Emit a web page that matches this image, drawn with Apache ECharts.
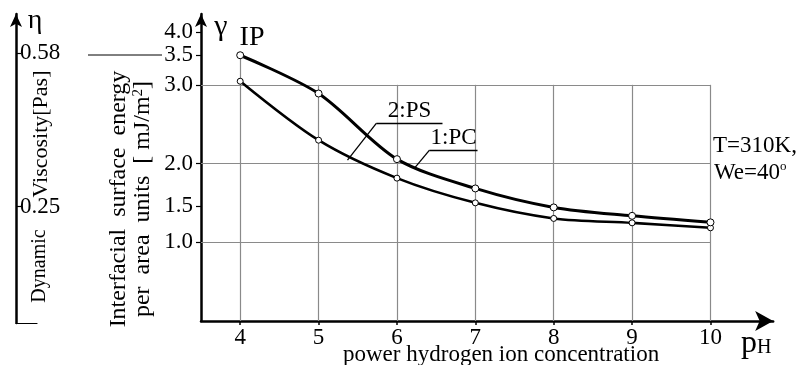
<!DOCTYPE html>
<html><head><meta charset="utf-8">
<script src="https://cdn.jsdelivr.net/npm/echarts@6/dist/echarts.min.js"></script>
<style>html,body{margin:0;padding:0;background:#fff}#c{width:799px;height:365px}</style>
</head><body><div id="c"></div>
<script>
// ---- data ----
const pH = [4, 5, 6, 7, 8, 9, 10];
const gammaPC = [3.376, 2.890, 2.056, 1.684, 1.443, 1.336, 1.253];   // 1:PC
const gammaPS = [3.046, 2.297, 1.815, 1.501, 1.303, 1.247, 1.184];   // 2:PS
const xTickValues = [4, 5, 6, 7, 8, 9, 10];
const yTickValues = [1.0, 1.46, 2.0, 3.0, 3.376, 3.667];
const yTickLabels = ['1.0', '1.5', '2.0', '3.0', '3.5', '4.0'];
const etaTickValues = [0.25, 0.58];
const etaTickLabels = ['0.25', '0.58'];
const gridLevels = [1, 2, 3];

const FONT = '"Liberation Serif", "DejaVu Serif", serif';
const X_MIN = 3.5, X_MAX = 10.8, Y_MAX = 3.9;

function lookup(vals, labels, v) {
  const i = vals.findIndex(t => Math.abs(t - v) < 1e-6);
  return i >= 0 ? labels[i] : '';
}

const chart = echarts.init(document.getElementById('c'), null, {renderer: 'canvas'});

const vGrid = pH.map((x, i) => [{coord: [x, 0]}, {coord: [x, i === 0 ? gammaPC[0] : 3]}]);
const hGrid = gridLevels.map(v => [{coord: [X_MIN, v]}, {coord: [10, v]}]);

const annLabel = (t) => ({show: true, formatter: t, position: 'insideMiddleTop', distance: 1,
  color: '#000', fontFamily: FONT, fontSize: 23});

const T = (x, y, text, size, extra) => Object.assign({type: 'text', x: x, y: y,
  style: Object.assign({text: text, font: size + 'px ' + FONT, fill: '#000',
    textAlign: 'center', textVerticalAlign: 'middle', align: 'center', verticalAlign: 'middle'}, extra || {})});

const option = {
  animation: false,
  backgroundColor: '#fff',
  grid: [
    {left: 201, width: (X_MAX - X_MIN) * 78.38, top: 14, bottom: 44},
    {left: 16, width: 21, top: 14, bottom: 42}
  ],
  xAxis: [
    {
      type: 'value', gridIndex: 0, min: X_MIN, max: X_MAX,
      axisLine: {show: true, onZero: false, lineStyle: {color: '#000', width: 2.5},
        symbol: ['none', 'arrow'], symbolSize: [15, 18]},
      axisTick: {show: true, customValues: xTickValues, length: 4, lineStyle: {color: '#000', width: 1.5}},
      axisLabel: {customValues: xTickValues, color: '#000', fontFamily: FONT, fontSize: 23, margin: 5},
      splitLine: {show: false}
    },
    {
      type: 'value', gridIndex: 1, min: 0, max: 1,
      axisLine: {show: true, onZero: false, lineStyle: {color: '#000', width: 1.2}},
      axisTick: {show: false}, axisLabel: {show: false}, splitLine: {show: false}
    }
  ],
  yAxis: [
    {
      type: 'value', gridIndex: 0, min: 0, max: Y_MAX,
      axisLine: {show: true, onZero: false, lineStyle: {color: '#000', width: 2.5},
        symbol: ['none', 'arrow'], symbolSize: [9, 13]},
      axisTick: {show: true, customValues: yTickValues, length: 5, lineStyle: {color: '#000', width: 1.2}},
      axisLabel: {customValues: yTickValues, formatter: v => lookup(yTickValues, yTickLabels, v),
        color: '#000', fontFamily: FONT, fontSize: 23, margin: 8},
      splitLine: {show: false}
    },
    {
      type: 'value', gridIndex: 1, min: 0, max: 0.664,
      axisLine: {show: true, onZero: false, lineStyle: {color: '#000', width: 2.5},
        symbol: ['none', 'arrow'], symbolSize: [9, 13]},
      axisTick: {show: true, inside: true, customValues: etaTickValues, length: 5, lineStyle: {color: '#000', width: 1.2}},
      axisLabel: {inside: true, customValues: etaTickValues, formatter: v => lookup(etaTickValues, etaTickLabels, v),
        color: '#000', fontFamily: FONT, fontSize: 23, margin: 4},
      splitLine: {show: false}
    }
  ],
  series: [
    {
      name: 'grid', type: 'line', xAxisIndex: 0, yAxisIndex: 0, data: [], z: 1,
      markLine: {
        silent: true, z: 1, symbol: ['none', 'none'], label: {show: false},
        lineStyle: {color: '#8a8a8a', width: 1.2, type: 'solid'},
        emphasis: {disabled: true},
        data: vGrid.concat(hGrid)
      }
    },
    {
      name: '2:PS', type: 'line', xAxisIndex: 0, yAxisIndex: 0, z: 3,
      data: pH.map((x, i) => [x, gammaPS[i]]),
      smooth: 0.3, symbol: 'circle', symbolSize: 6,
      lineStyle: {color: '#000', width: 2.6},
      itemStyle: {color: '#fff', borderColor: '#000', borderWidth: 1},
      markLine: {
        silent: true, z: 4, symbol: ['none', 'none'],
        lineStyle: {color: '#000', width: 1.3, type: 'solid'},
        label: {show: false},
        data: [
          [{coord: [5.739, 2.513], label: annLabel('2:PS')}, {coord: [6.581, 2.513], label: annLabel('2:PS')}],
          [{coord: [5.739, 2.513]}, {coord: [5.369, 2.043]}]
        ]
      }
    },
    {
      name: '1:PC', type: 'line', xAxisIndex: 0, yAxisIndex: 0, z: 3,
      data: pH.map((x, i) => [x, gammaPC[i]]),
      smooth: 0.3, symbol: 'circle', symbolSize: 7,
      lineStyle: {color: '#000', width: 3},
      itemStyle: {color: '#fff', borderColor: '#000', borderWidth: 1},
      markLine: {
        silent: true, z: 4, symbol: ['none', 'none'],
        lineStyle: {color: '#000', width: 1.3, type: 'solid'},
        label: {show: false},
        data: [
          [{coord: [6.415, 2.170], label: annLabel('1:PC')}, {coord: [7.028, 2.170], label: annLabel('1:PC')}],
          [{coord: [6.415, 2.170]}, {coord: [6.224, 1.942]}]
        ]
      }
    }
  ],
  graphic: [
    {type: 'line', shape: {x1: 88, y1: 55, x2: 162, y2: 55}, style: {stroke: '#000', lineWidth: 1}},
    T(221, 27, 'γ', 30),
    T(252, 38, 'IP', 28),
    T(35, 21, 'η', 28),
    Object.assign(T(41, 134, 'Viscosity[Pas]', 22), {rotation: Math.PI / 2}),
    Object.assign(T(40, 266, 'Dynamic', 20), {rotation: Math.PI / 2}),
    Object.assign(T(119, 199, 'Interfacial  surface  energy', 24), {rotation: Math.PI / 2}),
    Object.assign(T(143, 199, 'per  area  units  [ mJ/m{s|2}]', 24,
      {rich: {s: {fontSize: 15, fontFamily: FONT, padding: [0, 0, 10, 0]}}}), {rotation: Math.PI / 2}),
    T(343, 355, 'power hydrogen ion concentration', 23, {textAlign: 'left', align: 'left'}),
    T(741, 344, '{p|p}{h|H}', 30, {textAlign: 'left', align: 'left',
      rich: {p: {fontSize: 32, fontFamily: FONT}, h: {fontSize: 20, fontFamily: FONT, padding: [8, 0, 0, 0]}}}),
    T(713, 146, 'T=310K,', 23, {textAlign: 'left', align: 'left'}),
    T(714, 173, 'We=40{o|o}', 23, {textAlign: 'left', align: 'left',
      rich: {o: {fontSize: 13, fontFamily: FONT, padding: [0, 0, 12, 0]}}})
  ]
};
chart.setOption(option);
</script>
</body></html>
